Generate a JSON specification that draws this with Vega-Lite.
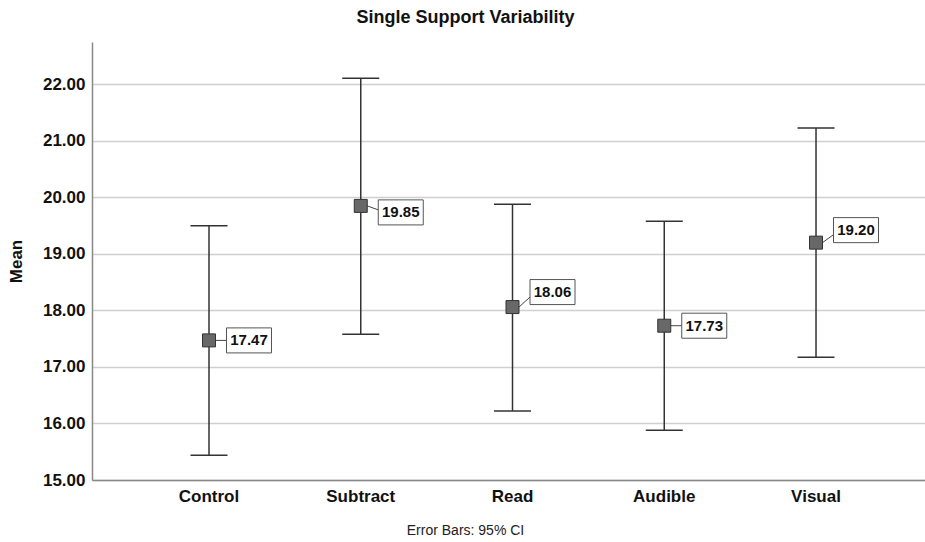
{
  "$schema": "https://vega.github.io/schema/vega-lite/v6.json",
  "width": 833,
  "height": 438,
  "autosize": {"type": "none"},
  "padding": {"left": 92, "top": 42, "right": 0, "bottom": 62},
  "background": "white",
  "config": {
    "view": {"stroke": null},
    "font": "Liberation Sans"
  },
  "title": {
    "text": "Single Support Variability",
    "fontSize": 18,
    "fontWeight": "bold",
    "font": "Liberation Sans",
    "color": "#111",
    "anchor": "middle",
    "frame": "group",
    "dx": -43,
    "offset": 15
  },
  "data": {
    "values": [
      {"group": "Control", "mean": 17.47, "lower": 15.44, "upper": 19.50},
      {"group": "Subtract", "mean": 19.85, "lower": 17.58, "upper": 22.11},
      {"group": "Read", "mean": 18.06, "lower": 16.22, "upper": 19.88},
      {"group": "Audible", "mean": 17.73, "lower": 15.88, "upper": 19.58},
      {"group": "Visual", "mean": 19.20, "lower": 17.17, "upper": 21.23}
    ]
  },
  "encoding": {
    "x": {
      "field": "group",
      "type": "nominal",
      "sort": null,
      "scale": {"type": "band", "paddingInner": 0, "paddingOuter": 0.2446, "align": 0.554},
      "axis": {
        "title": "Error Bars: 95% CI",
        "titleFont": "Liberation Sans",
        "titleFontSize": 14,
        "titleFontWeight": "normal",
        "titleColor": "#222",
        "titleX": 373,
        "titleY": 43,
        "titleBaseline": "top",
        "labelAngle": 0,
        "labelFont": "Liberation Sans",
        "labelFontSize": 17,
        "labelFontWeight": "bold",
        "labelColor": "#111",
        "labelPadding": 8,
        "ticks": false,
        "domainColor": "#888",
        "domainWidth": 1.5,
        "grid": false
      }
    }
  },
  "layer": [
    {
      "mark": {"type": "rule", "color": "#333", "strokeWidth": 1.5},
      "encoding": {
        "y": {
          "field": "lower",
          "type": "quantitative",
          "scale": {"domain": [15, 22.75], "nice": false, "zero": false},
          "axis": {
            "title": "Mean",
            "titleFont": "Liberation Sans",
            "titleFontSize": 17,
            "titleFontWeight": "bold",
            "titleColor": "#111",
            "titleX": -76,
            "titleY": 219,
            "titleBaseline": "middle",
            "titleAlign": "center",
            "values": [15, 16, 17, 18, 19, 20, 21, 22],
            "format": ".2f",
            "labelFont": "Liberation Sans",
            "labelFontSize": 17,
            "labelFontWeight": "bold",
            "labelColor": "#111",
            "labelPadding": 7,
            "ticks": false,
            "domainColor": "#888",
            "domainWidth": 1.5,
            "grid": true,
            "gridColor": "#d0d0d0",
            "gridWidth": 1.5
          }
        },
        "y2": {"field": "upper"}
      }
    },
    {
      "mark": {"type": "tick", "color": "#333", "size": 37, "thickness": 1.5, "opacity": 1},
      "encoding": {"y": {"field": "upper", "type": "quantitative"}}
    },
    {
      "mark": {"type": "tick", "color": "#333", "size": 37, "thickness": 1.5, "opacity": 1},
      "encoding": {"y": {"field": "lower", "type": "quantitative"}}
    },
    {
      "mark": {
        "type": "rule",
        "color": "#444",
        "strokeWidth": 1,
        "xOffset": 6.5,
        "x2Offset": 17.5,
        "y2Offset": {"expr": "datum.group == 'Subtract' ? 4 : datum.group == 'Read' ? -10 : datum.group == 'Visual' ? -8 : 0"}
      },
      "encoding": {
        "y": {"field": "mean", "type": "quantitative"},
        "x2": {"field": "group"},
        "y2": {"field": "mean"}
      }
    },
    {
      "mark": {"type": "point", "shape": "square", "size": 169, "filled": true, "fill": "#686868", "stroke": "#333", "strokeWidth": 1, "opacity": 1},
      "encoding": {"y": {"field": "mean", "type": "quantitative"}}
    },
    {
      "mark": {
        "type": "point",
        "shape": "M-1,-0.556L1,-0.556L1,0.556L-1,0.556Z",
        "size": 2025,
        "filled": true,
        "fill": "white",
        "stroke": "#555",
        "strokeWidth": 1,
        "opacity": 1,
        "xOffset": 40,
        "yOffset": {"expr": "datum.group == 'Subtract' ? 6.5 : datum.group == 'Read' ? -15 : datum.group == 'Visual' ? -12.5 : 0"}
      },
      "encoding": {"y": {"field": "mean", "type": "quantitative"}}
    },
    {
      "mark": {
        "type": "text",
        "font": "Liberation Sans",
        "fontSize": 15,
        "fontWeight": "bold",
        "color": "#111",
        "align": "center",
        "baseline": "middle",
        "xOffset": 40,
        "yOffset": {"expr": "datum.group == 'Subtract' ? 6.5 : datum.group == 'Read' ? -15 : datum.group == 'Visual' ? -12.5 : 0"}
      },
      "encoding": {
        "y": {"field": "mean", "type": "quantitative"},
        "text": {"field": "mean", "type": "quantitative", "format": ".2f"}
      }
    }
  ]
}
